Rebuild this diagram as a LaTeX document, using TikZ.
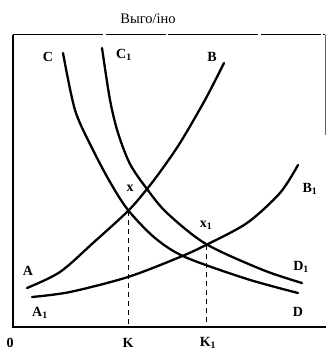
\documentclass[tikz,border=0pt]{standalone}
\usepackage{fontspec}
\setmainfont{Liberation Serif}
\usetikzlibrary{positioning}

\begin{document}
\begin{tikzpicture}[x=1pt,y=-1pt,
            curve/.style={line width=2.3pt,line cap=round},
            axis/.style={line width=1.6pt},
            guide/.style={line width=1pt,dash pattern=on 5pt off 4pt},
            lbl/.style={font=\bfseries\fontsize{14}{15}\selectfont,inner sep=1pt}]
        \useasboundingbox (0,0) rectangle (326,350);
        % frame and axes
        \coordinate (o) at (13,327);
        \coordinate (top) at (13,35);
        \coordinate (xend) at (326,327);
        \coordinate (tr) at (325,35);
        \draw[axis] (top) -- (o) -- (xend);
        \draw[line width=1pt,dash pattern=on 90pt off 3pt on 60pt off 2pt] (top) -- (tr);
        \draw[line width=0.5pt,black!60] (tr) -- ++(0,100);
        \node (title) at (148,19) {\fontsize{14.5}{16}\selectfont Выго/іно};
        % curves
        \draw[curve] plot[smooth] coordinates
            {(63,53) (75,110) (92,148) (110,182) (128,210) (155,238) (185,257) (247,279) (298,293)};
        \draw[curve] plot[smooth] coordinates
            {(102,48) (110,100) (118,133) (130,164) (147,189) (167,213) (206,244) (263,270) (302,283)};
        \draw[curve] plot[smooth] coordinates
            {(27,288) (60,272) (93,243) (128,211) (147,189) (160,172) (180,143) (205,100) (224,63)};
        \draw[curve] plot[smooth] coordinates
            {(32,297) (70,292) (128,277) (180,257) (206,245) (247,223) (280,193) (298,165)};
        % equilibrium points
        \coordinate (x) at (128,211);
        \coordinate (x1) at (206,245);
        \coordinate (k) at (128,327);
        \coordinate (k1) at (206,327);
        \draw[guide] (x) -- (k);
        \draw[guide] (x1) -- (k1);
        % labels
        \node[lbl] (zero) at (10,343) {0};
        \node[lbl] (lk) at (128,343) {K};
        \node[lbl] (lk1) at (208,343) {K\textsubscript{1}};
        \node[lbl] (lx) at (130,188) {x};
        \node[lbl] (lx1) at (206,225) {x\textsubscript{1}};
        \node[lbl] (la) at (28,271) {A};
        \node[lbl] (la1) at (40,313) {A\textsubscript{1}};
        \node[lbl] (ld1) at (301,267) {D\textsubscript{1}};
        \node[lbl] (ld) at (298,312) {D};
        \node[lbl] (lb1) at (310,189) {B\textsubscript{1}};
        \node[lbl] (lb) at (212,57) {B};
        \node[lbl] (lc1) at (124,55) {C\textsubscript{1}};
        \node[lbl] (lc) at (48,57) {C};
\end{tikzpicture}
\end{document}
